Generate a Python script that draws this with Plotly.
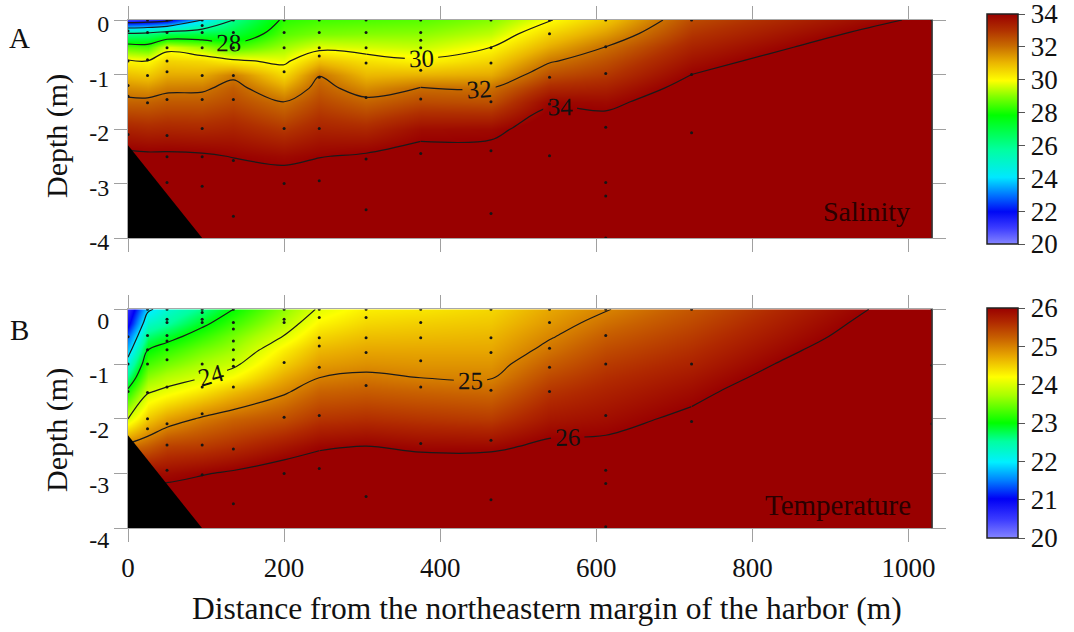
import numpy as np
import plotly.graph_objects as go

FONT = "Liberation Serif"

# Station distances (m) and sampled depths (m) of the section grid
distance = [0, 25, 50, 95, 135, 200, 245, 305, 375, 465, 540, 612, 722, 1030]
depth = [0, -0.25, -0.5, -0.75, -1.0, -1.25, -1.5, -2.0, -2.5, -3.0, -4.0]

# Salinity profile at each station, surface to bottom
salinity = [
    [21.0, 26.1, 28.6, 30.1, 30.9, 31.6, 32.2, 33.3, 34.2, 34.6, 34.8],
    [21.2, 26.3, 28.45, 30.0, 30.75, 31.5, 32.2, 33.2, 34.15, 34.5, 34.8],
    [21.6, 26.8, 29.7, 30.6, 31.2, 31.8, 32.35, 33.25, 34.15, 34.5, 34.8],
    [24.0, 27.0, 29.2, 30.5, 31.2, 31.85, 32.35, 33.2, 34.1, 34.5, 34.8],
    [26.0, 27.1, 28.4, 30.15, 31.8, 32.3, 32.6, 33.3, 33.97, 34.5, 34.8],
    [28.2, 28.6, 29.2, 29.8, 30.5, 31.25, 32.0, 32.9, 33.8, 34.4, 34.8],
    [28.4, 28.9, 29.7, 30.9, 31.95, 32.3, 32.65, 33.3, 33.97, 34.5, 34.8],
    [28.5, 29.0, 29.6, 30.4, 31.0, 31.6, 32.2, 33.2, 34.1, 34.5, 34.8],
    [28.6, 29.05, 29.5, 30.1, 31.1, 32.05, 32.6, 33.75, 34.3, 34.6, 34.8],
    [29.0, 29.45, 30.0, 30.6, 31.2, 32.0, 32.5, 33.8, 34.3, 34.6, 34.8],
    [29.95, 30.6, 31.2, 31.9, 32.55, 33.2, 33.9, 34.4, 34.6, 34.7, 34.8],
    [30.8, 31.4, 32.02, 32.5, 32.9, 33.35, 33.8, 34.4, 34.6, 34.7, 34.8],
    [32.6, 32.95, 33.3, 33.65, 34.0, 34.3, 34.5, 34.7, 34.8, 34.8, 34.8],
    [34.2, 34.6, 34.95, 35.3, 35.5, 35.6, 35.7, 35.8, 35.8, 35.8, 35.8],
]

# Temperature profile at each station, surface to bottom
temperature = [
    [20.6, 20.9, 21.4, 21.8, 22.2, 22.6, 23.1, 24.0, 25.1, 26.0, 26.5],
    [21.9, 22.3, 22.65, 23.0, 23.3, 23.6, 23.95, 24.55, 25.25, 25.9, 26.5],
    [22.25, 22.5, 22.85, 23.2, 23.5, 23.8, 24.1, 24.8, 25.45, 25.9, 26.5],
    [22.6, 22.9, 23.2, 23.5, 23.75, 24.0, 24.35, 25.05, 25.5, 25.98, 26.5],
    [23.0, 23.25, 23.5, 23.7, 23.92, 24.2, 24.6, 25.2, 25.6, 26.05, 26.5],
    [23.6, 23.8, 24.02, 24.3, 24.5, 24.72, 24.95, 25.35, 25.8, 26.2, 26.5],
    [24.05, 24.25, 24.45, 24.65, 24.82, 25.0, 25.2, 25.55, 25.95, 26.25, 26.6],
    [24.3, 24.45, 24.6, 24.75, 24.9, 25.07, 25.25, 25.6, 26.0, 26.3, 26.6],
    [24.35, 24.5, 24.62, 24.75, 24.87, 25.0, 25.2, 25.55, 25.93, 26.25, 26.6],
    [24.45, 24.55, 24.65, 24.75, 24.87, 24.98, 25.15, 25.5, 25.92, 26.3, 26.6],
    [24.75, 24.85, 24.97, 25.1, 25.25, 25.4, 25.55, 25.8, 26.08, 26.3, 26.6],
    [24.98, 25.12, 25.25, 25.38, 25.5, 25.6, 25.7, 25.88, 26.08, 26.25, 26.6],
    [25.3, 25.4, 25.5, 25.6, 25.7, 25.8, 25.9, 26.08, 26.25, 26.4, 26.6],
    [26.25, 26.32, 26.38, 26.47, 26.57, 26.66, 26.76, 26.85, 26.9, 26.95, 27.0],
]

# Contour levels: plain isolines and labelled isolines with the station
# span (distance from, to) on which each label is placed
sal_plain_levels = [22, 24, 26]
sal_label_spans = {28: (0, 1030), 30: (305, 612), 32: (375, 722),
                   34: (375, 722)}
temp_plain_levels = [22]
temp_label_spans = {23: (0, 1030), 24: (0, 1030), 25: (0, 1030),
                    26: (245, 722)}

# Sampling points (station distance -> sampled depths)
salinity_samples = {
    0: [-0.2, -0.75, -1.2, -1.4, -2.1],
    25: [0, -0.23, -0.73, -1.02, -1.52],
    50: [0, -0.23, -0.51, -0.75, -0.95, -1.46, -2.12, -2.51, -2.98],
    95: [0, -0.1, -0.23, -0.51, -1.02, -1.46, -1.99, -2.51, -3.05],
    135: [0, -0.23, -0.51, -1.02, -1.46, -2.58, -3.6],
    200: [0, -0.23, -0.51, -0.95, -1.99, -3.0],
    245: [0, -0.23, -0.51, -0.66, -1.05, -1.99, -2.95],
    305: [0, -0.23, -0.51, -0.79, -1.42, -2.55, -3.48],
    375: [0, -0.23, -0.37, -0.51, -0.92, -1.45, -2.45],
    465: [0, -0.51, -0.79, -1.5, -2.4, -3.55],
    540: [0, -0.25, -1.05, -1.54, -2.49],
    612: [0, -0.49, -0.98, -1.97, -2.98, -3.23, -4.0],
    722: [0, -1.0, -2.07],
    1030: [0],
}
temperature_samples = {
    0: [-0.5, -1.0, -1.5],
    25: [0, -0.48, -0.74, -1.0, -1.52, -2.0, -2.18],
    50: [0, -0.18, -0.24, -0.48, -0.58, -0.74, -0.92, -1.42, -2.09, -2.48, -2.94],
    95: [0, -0.06, -0.18, -0.24, -1.0, -1.42, -1.91, -2.48, -3.02],
    135: [0, -0.24, -0.36, -0.58, -0.74, -0.92, -1.04, -1.42, -2.55, -3.55],
    200: [0, -0.18, -0.24, -0.97, -1.97, -3.0],
    245: [0, -0.15, -0.52, -0.67, -1.06, -1.94, -2.91],
    305: [0, -0.15, -0.52, -0.79, -1.39, -3.42],
    375: [0, -0.24, -0.52, -0.94, -1.42, -2.45],
    465: [0, -0.52, -0.79, -1.48, -2.39, -3.48],
    540: [0, -0.24, -0.71, -1.06, -1.5],
    612: [0, -0.48, -1.0, -1.94, -2.94, -3.18, -3.97],
    722: [0, -1.0, -2.05],
    1030: [0, -1.02, -2.09],
}

# Sloping harbour bed at the near-shore end (distance, depth)
bank_x = [0, 95, 0]
bank_depth = [-2.3, -4.0, -4.0]

sal_ticks = [20, 22, 24, 26, 28, 30, 32, 34]
temp_ticks = [20, 21, 22, 23, 24, 25, 26]
dist_ticks = [0, 200, 400, 600, 800, 1000]
depth_ticks = [0, -1, -2, -3, -4]

SAL_CS = [
    [0.0, "#8585ff"], [0.07, "#3c3cff"], [0.14, "#0008f5"], [0.21, "#0070ff"],
    [0.29, "#00e8ff"], [0.41, "#00ffa0"], [0.56, "#00ff00"], [0.64, "#80ff00"],
    [0.71, "#ffff00"], [0.79, "#eab400"], [0.86, "#c86c00"], [0.93, "#b03000"],
    [1.0, "#990000"],
]
TEMP_CS = [
    [0.0, "#8585ff"], [0.08, "#3c3cff"], [0.17, "#0000f5"], [0.25, "#0080ff"],
    [0.33, "#00f0ff"], [0.42, "#00ffa0"], [0.5, "#00ff00"], [0.62, "#a8ff00"],
    [0.7, "#ffff00"], [0.79, "#e8a800"], [0.87, "#c86000"], [0.94, "#b02800"],
    [1.0, "#990000"],
]

LINE = dict(color="#1a1a1a", width=1.2)
LABEL_FONT = dict(family=FONT, size=25, color="#111")


def add_isoline(fig, z, level, i0, i1, labelled, xa, ya):
    """One contour level drawn over the station columns i0..i1."""
    if i1 <= i0:
        return
    fig.add_trace(go.Contour(
        x=distance[i0:i1 + 1], y=depth, z=z[:, i0:i1 + 1], showscale=False,
        contours=dict(coloring="none", start=level, end=level, size=1,
                      showlabels=labelled, labelfont=LABEL_FONT),
        line=LINE, xaxis=xa, yaxis=ya, hoverinfo="skip"))


def add_panel(fig, z_profiles, cs, zmin, zmax, plain_levels, label_spans,
              samples, xa, ya, cb):
    z = np.array(z_profiles).T
    last = len(distance) - 1
    fig.add_trace(go.Contour(
        x=distance, y=depth, z=z, colorscale=cs, zmin=zmin, zmax=zmax,
        zauto=False,
        contours=dict(coloring="heatmap", showlines=False,
                      start=zmin, end=zmax, size=1),
        line=dict(width=0), showscale=True, colorbar=cb,
        xaxis=xa, yaxis=ya, hoverinfo="skip"))
    for level in plain_levels:
        add_isoline(fig, z, level, 0, last, False, xa, ya)
    for level, (d0, d1) in label_spans.items():
        i0, i1 = distance.index(d0), distance.index(d1)
        add_isoline(fig, z, level, 0, i0, False, xa, ya)
        add_isoline(fig, z, level, i0, i1, True, xa, ya)
        add_isoline(fig, z, level, i1, last, False, xa, ya)
    fig.add_trace(go.Scatter(
        x=bank_x, y=bank_depth, fill="toself", fillcolor="black",
        mode="lines", line=dict(width=0, color="black"),
        xaxis=xa, yaxis=ya, showlegend=False, hoverinfo="skip"))
    px, py = [], []
    for st, ds in samples.items():
        px += [st] * len(ds)
        py += ds
    fig.add_trace(go.Scatter(
        x=px, y=py, mode="markers",
        marker=dict(size=3, color="#151515"),
        xaxis=xa, yaxis=ya, showlegend=False, hoverinfo="skip"))


def colorbar(ticks, yc):
    return dict(
        x=987 / 1074, xanchor="left", xpad=0,
        y=yc, yanchor="middle", ypad=0,
        len=230, lenmode="pixels", thickness=31, thicknessmode="pixels",
        outlinecolor="#222", outlinewidth=1.5,
        tickvals=ticks, ticks="outside", ticklen=7, tickcolor="#555",
        ticklabeloverflow="allow",
        tickfont=dict(family=FONT, size=27, color="#111"),
    )


fig = go.Figure()
add_panel(fig, salinity, SAL_CS, 20, 34, sal_plain_levels, sal_label_spans,
          salinity_samples, "x", "y", colorbar(sal_ticks, 1 - 129 / 632))
add_panel(fig, temperature, TEMP_CS, 20, 26, temp_plain_levels,
          temp_label_spans, temperature_samples, "x2", "y2",
          colorbar(temp_ticks, 1 - 423 / 632))

xdom = [128 / 1074, 932 / 1074]
axis_common = dict(
    showgrid=False, zeroline=False, showline=True, linecolor="#a8a8a8",
    linewidth=1, mirror="ticks", ticks="outside", ticklen=13,
    tickcolor="#a0a0a0", tickwidth=1,
)
fig.update_layout(
    width=1074, height=632,
    margin=dict(l=0, r=0, t=0, b=0, autoexpand=False),
    paper_bgcolor="white", plot_bgcolor="white",
    showlegend=False,
    font=dict(family=FONT, color="#111"),
    xaxis=dict(domain=xdom, range=[0, 1030], anchor="y",
               tickvals=dist_ticks, showticklabels=False, **axis_common),
    yaxis=dict(domain=[1 - 238 / 632, 1 - 20 / 632], range=[-4, 0],
               anchor="x", tickvals=depth_ticks,
               ticktext=[str(v) for v in depth_ticks],
               tickfont=dict(size=24), ticklabelshift=4, **axis_common),
    xaxis2=dict(domain=xdom, range=[0, 1030], anchor="y2",
                tickvals=dist_ticks, tickfont=dict(size=27),
                ticklabelstandoff=2, **axis_common),
    yaxis2=dict(domain=[1 - 528.3 / 632, 1 - 309.3 / 632], range=[-4, 0],
                anchor="x2", tickvals=depth_ticks,
                ticktext=[str(v) for v in depth_ticks],
                tickfont=dict(size=24), ticklabelshift=11, **axis_common),
)

# Dark right-hand edge of each section
for xa, ya in (("x", "y"), ("x2", "y2")):
    fig.add_shape(type="line", xref=f"{xa} domain", yref=f"{ya} domain",
                  x0=1, x1=1, y0=0, y1=1,
                  line=dict(color="#333", width=1.5))

annotations = [
    dict(text="A", x=19 / 1074, y=1 - 38 / 632, xref="paper", yref="paper",
         font=dict(size=29)),
    dict(text="B", x=19 / 1074, y=1 - 330 / 632, xref="paper", yref="paper",
         font=dict(size=29)),
    dict(text="Depth (m)", x=57 / 1074, y=1 - 136 / 632, xref="paper",
         yref="paper", textangle=-90, font=dict(size=30)),
    dict(text="Depth (m)", x=57 / 1074, y=1 - 430 / 632, xref="paper",
         yref="paper", textangle=-90, font=dict(size=30)),
    dict(text="Salinity", x=0.975, y=0.12, xref="x domain", yref="y domain",
         xanchor="right", font=dict(size=28, color="#2a0000")),
    dict(text="Temperature", x=0.976, y=0.106, xref="x2 domain",
         yref="y2 domain", xanchor="right",
         font=dict(size=29, color="#2a0000")),
    dict(text="Distance from the northeastern margin of the harbor (m)",
         x=547 / 1074, y=1 - 608 / 632, xref="paper", yref="paper",
         font=dict(size=31.5)),
]
for a in annotations:
    a.setdefault("showarrow", False)
    a.setdefault("yanchor", "middle")
    a.setdefault("xanchor", "center")
    fig.add_annotation(**a)

fig.write_html("out.html")
